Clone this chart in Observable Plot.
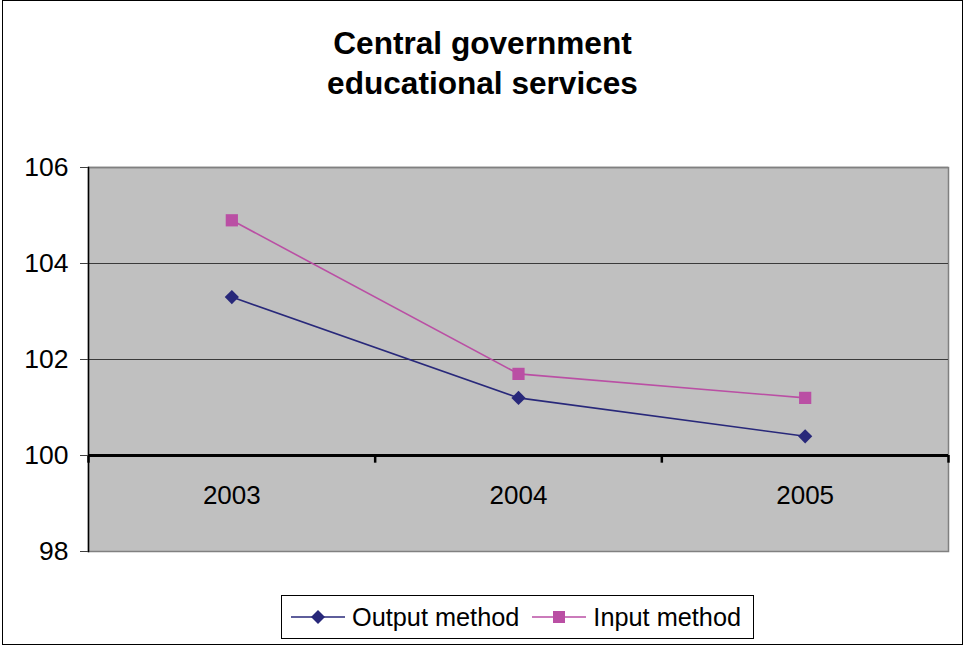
<!DOCTYPE html>
<html>
<head>
<meta charset="utf-8">
<script src="https://cdn.jsdelivr.net/npm/d3@7"></script>
<script src="https://cdn.jsdelivr.net/npm/@observablehq/plot@0.6"></script>
<style>
  html, body { margin: 0; padding: 0; background: #fff; }
  body { width: 965px; height: 646px; overflow: hidden; font-family: "Liberation Sans", Arial, sans-serif; }
  #frame { position: absolute; left: 2px; top: 0px; width: 959px; height: 643px; border: 1.5px solid #000; background: #fff; }
  #title { position: absolute; left: 0; top: 23px; width: 965px; text-align: center; font-weight: bold; font-size: 31.6px; line-height: 40px; color: #000; }
  #chart { position: absolute; left: 0; top: 140px; }
  #legend { position: absolute; left: 281px; top: 595px; width: 473px; height: 44px; border: 1.5px solid #000; background: #fff; display: flex; align-items: center; font-size: 25.3px; color: #000; box-sizing: border-box; }
  .item { display: flex; align-items: center; }
  .item svg { display: block; }
</style>
</head>
<body>
<div id="frame"></div>
<div id="title">Central government<br>educational services</div>
<div id="chart"></div>
<div id="legend"></div>
<script>
const years = [2003, 2004, 2005];
const outputMethod = [103.3, 101.2, 100.4];
const inputMethod = [104.9, 101.7, 101.2];
const yTicks = [98, 100, 102, 104, 106];
const seriesNames = ["Output method", "Input method"];
const seriesColors = ["#28287A", "#BA4FA4"];

const rows = [
  ...years.map((yr, i) => ({year: yr, value: outputMethod[i], series: seriesNames[0]})),
  ...years.map((yr, i) => ({year: yr, value: inputMethod[i], series: seriesNames[1]}))
];
const bounds = [...years.map(y => y - 0.5), years[years.length - 1] + 0.5];

const chart = Plot.plot({
  width: 965,
  height: 435,
  marginLeft: 88,
  marginRight: 17,
  marginTop: 27,
  marginBottom: 24,
  style: {fontFamily: "'Liberation Sans', Arial, sans-serif", fontSize: "26px", background: "transparent", overflow: "visible"},
  x: {domain: [bounds[0], bounds[bounds.length - 1]]},
  y: {domain: [98, 106]},
  marks: [
    Plot.frame({fill: "#C0C0C0", stroke: "#808080", strokeWidth: 1.5}),
    Plot.ruleY(yTicks.filter(t => t !== 100 && t !== 98 && t !== 106), {stroke: "#3a3a3a", strokeWidth: 1}),
    Plot.ruleY([106], {stroke: "#808080", strokeWidth: 1.5}),
    Plot.frame({anchor: "left", stroke: "#000", strokeWidth: 1.5}),
    Plot.ruleY([100], {stroke: "#000", strokeWidth: 3}),
    Plot.ruleX(bounds, {y1: 100, y2: 99.84, stroke: "#000", strokeWidth: 2.5}),
    Plot.axisY({ticks: yTicks, tickSize: 8, tickPadding: 12, stroke: "#404040", fill: "#000", fontSize: 26.5, tickFormat: d => String(d), label: null}),
    Plot.axisX({ticks: years, tickSize: 0, tickPadding: 0, dy: -66, fontSize: 26, fill: "#000", tickFormat: d => String(d), label: null}),
    Plot.line(rows, {x: "year", y: "value", z: "series", stroke: "series", strokeWidth: 1.6}),
    Plot.dot(rows.filter(d => d.series === seriesNames[0]), {x: "year", y: "value", symbol: "diamond2", r: 6.4, fill: seriesColors[0], stroke: "none"}),
    Plot.dot(rows.filter(d => d.series === seriesNames[1]), {x: "year", y: "value", symbol: "square", r: 6.9, fill: seriesColors[1], stroke: "none"})
  ],
  color: {domain: seriesNames, range: seriesColors}
});
document.getElementById("chart").appendChild(chart);

// legend
const legend = document.getElementById("legend");
const symbols = [d3.symbolDiamond2, d3.symbolSquare];
const sizes = [125, 144];
seriesNames.forEach((name, i) => {
  const item = document.createElement("div");
  item.className = "item";
  item.style.marginLeft = i === 0 ? "8px" : "12px";
  const svg = d3.create("svg").attr("width", 56).attr("height", 20);
  svg.append("line").attr("x1", 1).attr("x2", 55).attr("y1", 10).attr("y2", 10).attr("stroke", seriesColors[i]).attr("stroke-width", 1.6);
  svg.append("path").attr("d", d3.symbol(symbols[i], sizes[i])()).attr("transform", "translate(28,10)").attr("fill", seriesColors[i]);
  item.appendChild(svg.node());
  const label = document.createElement("span");
  label.textContent = name;
  label.style.marginLeft = "6px";
  item.appendChild(label);
  legend.appendChild(item);
});
</script>
</body>
</html>
